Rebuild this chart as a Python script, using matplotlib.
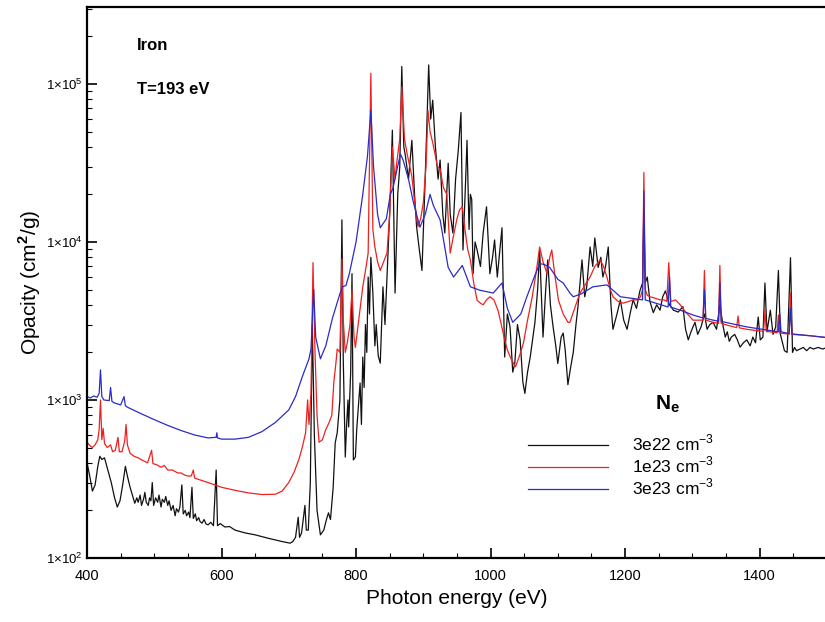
import numpy as np
import matplotlib
matplotlib.use('Agg')
import matplotlib.pyplot as plt
from matplotlib.ticker import FixedLocator, NullFormatter

plt.rcParams['font.family'] = ['Liberation Sans', 'DejaVu Sans']
plt.rcParams['mathtext.fontset'] = 'custom'
plt.rcParams['mathtext.rm'] = 'Liberation Sans'
plt.rcParams['mathtext.bf'] = 'Liberation Sans:bold'

# Ne = 3e22 cm-3 (black)
energy_3e22 = [400, 404, 408, 412, 416, 419, 422, 426, 431, 436, 441, 445, 449, 453, 457, 460, 464, 468, 471, 474,
               476, 479, 481, 484, 486, 488, 491, 493, 495, 497, 499, 502, 505, 507, 510, 512, 515, 517, 520, 522,
               525, 528, 531, 533, 536, 538, 541, 543, 546, 548, 551, 553, 556, 558, 561, 563, 566, 568, 571, 574,
               577, 580, 584, 588, 592, 594, 598, 605, 612, 620, 635, 650, 670, 690, 702, 706, 710, 714, 716, 719,
               724, 726, 729, 732, 735, 738, 742, 747, 752, 756, 759, 762, 766, 769, 772, 776, 779, 781, 784, 786,
               788, 789, 792, 794, 796, 799, 801, 806, 808, 810, 812, 814, 816, 818, 820, 822, 825, 828, 830, 833,
               836, 840, 843, 846, 850, 854, 858, 862, 865, 868, 871, 873, 878, 883, 887, 890, 894, 898, 902, 905,
               908, 911, 914, 918, 922, 925, 929, 932, 937, 940, 944, 948, 952, 956, 959, 963, 965, 968, 970, 972,
               974, 977, 980, 985, 989, 994, 999, 1003, 1006, 1010, 1014, 1017, 1021, 1025, 1029, 1033, 1036, 1040, 1044, 1048,
               1051, 1055, 1059, 1063, 1066, 1070, 1073, 1078, 1082, 1085, 1089, 1093, 1097, 1100, 1105, 1108, 1111, 1115, 1119, 1123,
               1127, 1130, 1136, 1140, 1143, 1148, 1152, 1155, 1160, 1164, 1167, 1171, 1175, 1179, 1182, 1188, 1193, 1198, 1203, 1208,
               1212, 1217, 1222, 1226, 1228, 1230, 1233, 1237, 1242, 1247, 1252, 1256, 1260, 1266, 1272, 1279, 1286, 1290, 1294, 1298,
               1301, 1304, 1308, 1313, 1318, 1322, 1326, 1331, 1336, 1341, 1346, 1349, 1352, 1355, 1358, 1363, 1367, 1371, 1376, 1381,
               1386, 1390, 1394, 1398, 1401, 1405, 1408, 1411, 1416, 1420, 1424, 1428, 1431, 1433, 1437, 1441, 1446, 1449, 1452, 1455,
               1460, 1465, 1470, 1475, 1480, 1487, 1494, 1500]
opacity_3e22 = [400, 330, 265, 290, 380, 440, 420, 430, 360, 300, 240, 210, 230, 290, 380, 330, 280, 245, 222, 240,
                225, 250, 215, 235, 260, 225, 215, 240, 230, 300, 215, 240, 225, 250, 210, 235, 225, 245, 215, 230,
                200, 215, 185, 205, 195, 210, 290, 190, 200, 185, 195, 180, 280, 178, 190, 172, 180, 170, 166, 175,
                164, 162, 168, 160, 360, 160, 165, 157, 158, 150, 144, 140, 133, 127, 124, 127, 135, 181, 135, 144,
                215, 150, 150, 300, 3000, 600, 200, 140, 150, 175, 193, 175, 280, 535, 620, 1000, 13800, 1790, 435, 700,
                1000, 675, 1500, 6300, 417, 435, 650, 1280, 700, 1870, 1200, 3000, 2000, 6000, 3500, 8000, 4750, 2200, 3000, 1900,
                1710, 5200, 3000, 6000, 15000, 51000, 4750, 20000, 30000, 129000, 40000, 36000, 25000, 44000, 20000, 12500, 9000, 6600, 20000, 50000,
                132000, 60000, 79000, 40000, 25000, 33000, 15000, 11400, 31500, 15000, 11400, 25000, 38000, 66000, 8900, 25000, 44000, 12000, 20000, 18600,
                6300, 10000, 8900, 7000, 11400, 16700, 6300, 8000, 10300, 6000, 9000, 12300, 1870, 3500, 2900, 1500, 1700, 3000, 2400, 1300,
                1100, 1500, 1870, 2500, 3100, 5000, 8900, 2500, 5000, 7700, 4000, 2900, 2200, 1700, 2500, 2650, 2070, 1250, 1600, 2000,
                3000, 3900, 7700, 4500, 5200, 9300, 7000, 10600, 6900, 8000, 6000, 7000, 9300, 4000, 2800, 3500, 4300, 3200, 2800, 3600,
                4300, 3800, 4900, 5500, 15000, 5500, 6000, 4200, 3570, 4000, 3700, 4500, 4900, 4000, 3700, 3600, 3900, 2800, 2400, 2700,
                2900, 3100, 2600, 2900, 3500, 2800, 3000, 3100, 2800, 4000, 2900, 2500, 2700, 2350, 2500, 2600, 2400, 2160, 2300, 2400,
                2200, 2500, 2300, 3350, 2400, 2500, 5500, 2700, 3700, 2600, 2900, 6600, 2600, 2400, 2050, 2000, 7950, 2000, 2150, 2050,
                2100, 2150, 2050, 2150, 2100, 2150, 2100, 2150]

# Ne = 1e23 cm-3 (red)
energy_1e23 = [400, 404, 408, 412, 416, 418, 420, 422, 424, 426, 430, 435, 438, 442, 446, 448, 452, 456, 458, 460,
               464, 470, 476, 480, 485, 490, 496, 498, 503, 510, 515, 520, 527, 535, 540, 545, 550, 555, 558, 560,
               570, 580, 590, 600, 620, 640, 660, 680, 690, 700, 708, 715, 720, 725, 728, 730, 733, 736, 739, 742,
               745, 750, 755, 760, 764, 767, 770, 772, 776, 779, 781, 784, 787, 791, 794, 797, 799, 805, 810, 815,
               818, 822, 825, 828, 832, 836, 841, 846, 850, 854, 858, 861, 865, 868, 872, 876, 880, 883, 887, 892,
               896, 900, 904, 907, 910, 914, 918, 921, 925, 930, 935, 940, 945, 950, 954, 958, 962, 966, 970, 975,
               980, 985, 989, 994, 999, 1005, 1011, 1016, 1020, 1025, 1031, 1037, 1043, 1049, 1055, 1062, 1068, 1073, 1078, 1084,
               1088, 1091, 1096, 1101, 1108, 1115, 1118, 1125, 1133, 1140, 1148, 1155, 1163, 1168, 1173, 1178, 1182, 1190, 1197, 1205,
               1212, 1218, 1223, 1226, 1228, 1230, 1233, 1237, 1245, 1252, 1258, 1262, 1265, 1268, 1275, 1282, 1290, 1297, 1301, 1310,
               1316, 1318, 1320, 1331, 1339, 1341, 1343, 1355, 1366, 1368, 1370, 1381, 1395, 1406, 1408, 1410, 1420, 1426, 1428, 1430,
               1440, 1444, 1446, 1448, 1460, 1475, 1494, 1500]
opacity_1e23 = [540, 515, 500, 520, 560, 650, 1000, 560, 660, 530, 500, 520, 470, 480, 580, 470, 470, 550, 700, 520,
                460, 440, 430, 420, 410, 400, 480, 395, 390, 375, 385, 360, 360, 345, 345, 335, 330, 330, 360, 320,
                310, 300, 290, 280, 268, 258, 252, 253, 265, 300, 350, 420, 500, 620, 1000, 700, 1100, 7400, 2000, 800,
                540, 560, 650, 720, 800, 1300, 1700, 2100, 2000, 7800, 3200, 2000, 2300, 3000, 5000, 2500, 2150, 3500, 5200, 7000,
                8500, 117000, 12000, 9300, 7500, 6600, 7500, 8500, 15000, 40000, 25000, 33000, 45000, 96000, 45000, 36000, 30000, 26000, 18000, 12500,
                14000, 17700, 30000, 68000, 50000, 42500, 35000, 30000, 29000, 22000, 20000, 8500, 11000, 14000, 16000, 16700, 12000, 9000, 7700, 5500,
                4270, 4100, 4000, 4300, 4500, 4300, 3700, 3000, 2500, 2070, 1800, 1620, 1900, 2300, 3200, 4500, 6500, 9300, 7500, 6300,
                8000, 8900, 6000, 4270, 3500, 3100, 3100, 3800, 4750, 5300, 6000, 7000, 7700, 7000, 6000, 5000, 4500, 4200, 4100, 4200,
                4300, 4300, 4500, 5000, 27500, 5000, 4600, 4500, 4400, 4300, 4300, 4200, 7400, 4200, 4300, 4000, 3600, 3350, 3200, 3200,
                3200, 6600, 3200, 3100, 3050, 7100, 3050, 2950, 2870, 3400, 2860, 2800, 2750, 2720, 3700, 2720, 2680, 2660, 3450, 2650,
                2620, 2610, 4750, 2600, 2580, 2550, 2500, 2480]

# Ne = 3e23 cm-3 (blue)
energy_3e23 = [400, 405, 410, 415, 418, 420, 422, 425, 433, 435, 437, 440, 450, 455, 457, 460, 480, 500, 520, 540,
               560, 580, 592, 593, 594, 600, 620, 640, 660, 680, 700, 710, 720, 730, 733, 737, 740, 747, 755, 765,
               776, 780, 785, 790, 800, 810, 817, 822, 826, 832, 836, 845, 851, 855, 861, 866, 870, 878, 885, 895,
               903, 910, 915, 925, 937, 945, 958, 970, 984, 1004, 1017, 1025, 1033, 1045, 1054, 1065, 1073, 1080, 1088, 1100,
               1108, 1118, 1123, 1135, 1152, 1173, 1193, 1210, 1226, 1228, 1230, 1262, 1264, 1266, 1268, 1282, 1301, 1316, 1318, 1320,
               1331, 1339, 1341, 1343, 1381, 1428, 1430, 1432, 1444, 1446, 1448, 1494, 1500]
opacity_3e23 = [1050, 1030, 1060, 1040, 1100, 1550, 1050, 1000, 990, 1200, 980, 960, 930, 1050, 920, 900, 820, 750, 690, 640,
                600, 575, 580, 620, 575, 565, 565, 580, 630, 720, 865, 1050, 1400, 1820, 2100, 5000, 2500, 1820, 2200, 3300,
                4700, 5200, 5300, 6300, 10000, 20000, 35000, 68000, 30000, 15000, 12300, 14000, 20000, 22000, 29000, 36000, 33000, 25000, 18000, 12400,
                15000, 20000, 17000, 13800, 6900, 6000, 7100, 5200, 4950, 4750, 5500, 3800, 3100, 3500, 4500, 6000, 7300, 7200, 6900, 5800,
                5500, 4750, 4500, 4700, 5200, 5350, 4500, 4400, 4300, 21000, 4300, 3900, 3880, 6000, 3870, 3700, 3450, 3300, 5000, 3280,
                3200, 3150, 5500, 3140, 2900, 2700, 3500, 2700, 2630, 3800, 2620, 2500, 2480]

series_labels = ['3e22 cm$^{-3}$', '1e23 cm$^{-3}$', '3e23 cm$^{-3}$']
series_colors = ['#111111', '#f02020', '#2b2bc8']
ytick_values = [1e2, 1e3, 1e4, 1e5]
ytick_labels = ['1×10$^{2}$', '1×10$^{3}$', '1×10$^{4}$', '1×10$^{5}$']
xtick_values = [400, 600, 800, 1000, 1200, 1400]

fig = plt.figure(figsize=(8.25, 6.22), dpi=100)
ax = fig.add_axes([0.1055, 0.103, 0.8967, 0.8857])

data = [(energy_3e22, opacity_3e22), (energy_1e23, opacity_1e23), (energy_3e23, opacity_3e23)]
for (e, k), lab, col in zip(data, series_labels, series_colors):
    ax.plot(e, k, color=col, lw=0.9, label=lab)

ax.set_yscale('log')
ax.set_xlim(400, 1500)
ax.set_ylim(100, 3.07e5)

ax.yaxis.set_major_locator(FixedLocator(ytick_values))
ax.set_yticklabels(ytick_labels, fontsize=9.5)
ax.yaxis.set_minor_locator(FixedLocator([m * 10 ** p for p in range(2, 6) for m in range(2, 10)]))
ax.yaxis.set_minor_formatter(NullFormatter())
ax.xaxis.set_major_locator(FixedLocator(xtick_values))
ax.xaxis.set_minor_locator(FixedLocator(np.arange(400, 1501, 50)))
ax.tick_params(axis='x', labelsize=10.5)
ax.tick_params(which='major', direction='in', length=7, width=1.2)
ax.tick_params(which='minor', direction='in', length=3.5, width=0.8)
ax.tick_params(axis='x', pad=8)
ax.tick_params(axis='y', pad=3)

for s in ['left', 'bottom', 'top']:
    ax.spines[s].set_linewidth(1.6)
ax.spines['right'].set_visible(False)

ax.set_xlabel('Photon energy (eV)', fontsize=15, labelpad=4)
ax.set_ylabel('Opacity (cm$^{\\mathbf{2}}$/g)', fontsize=15, labelpad=2)

ax.text(0.068, 0.922, 'Iron', transform=ax.transAxes, fontsize=12, fontweight='bold')
ax.text(0.068, 0.843, 'T=193 eV', transform=ax.transAxes, fontsize=12, fontweight='bold')
ax.text(0.768, 0.27, 'N$_\\mathbf{e}$', transform=ax.transAxes, fontsize=15, fontweight='bold')

ax.legend(loc='upper left', bbox_to_anchor=(0.575, 0.255), frameon=False, fontsize=12.5,
          handlelength=4.6, handletextpad=1.4, labelspacing=0.08)

fig.savefig('out.png', dpi=100)
